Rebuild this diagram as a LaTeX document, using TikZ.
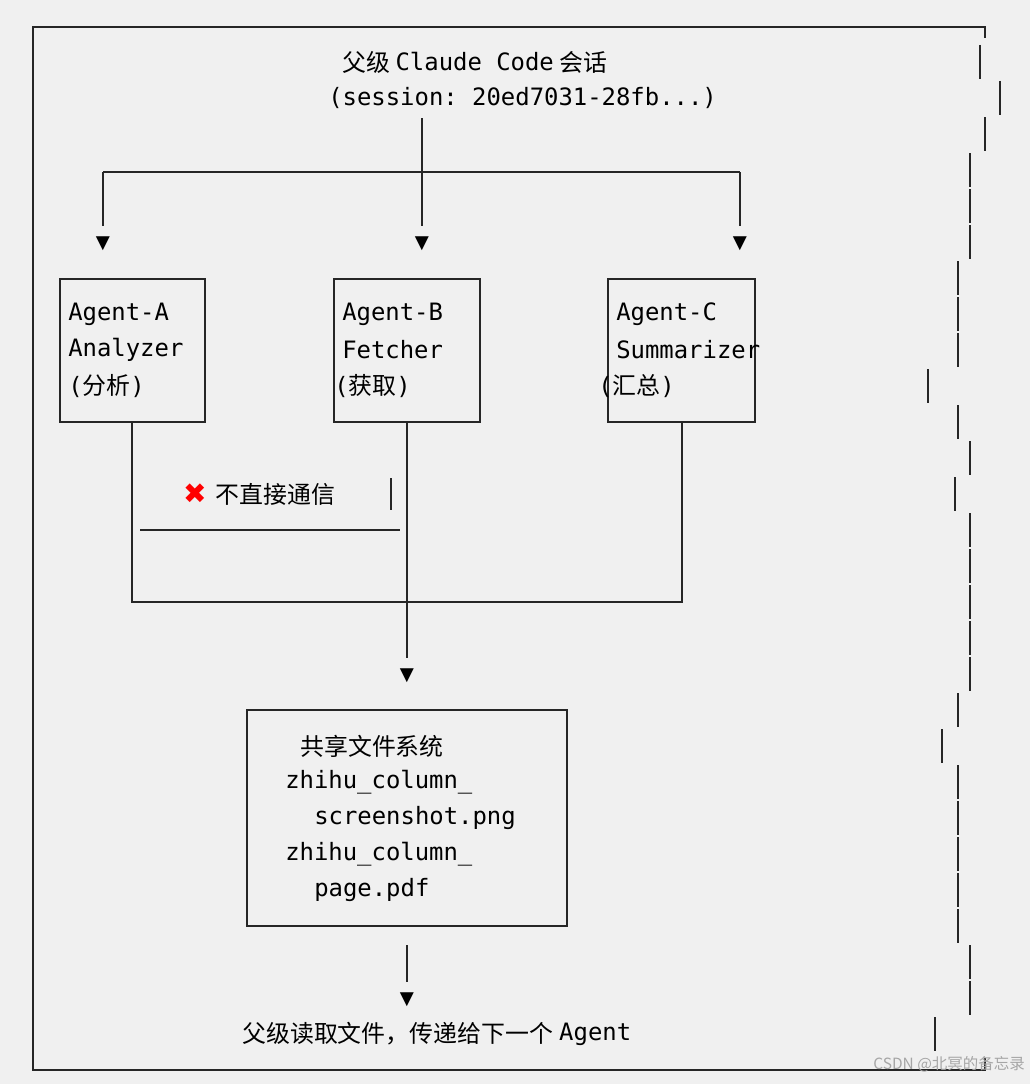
\documentclass[tikz,border=0pt]{standalone}
\usepackage{fontspec}
\setmonofont{DejaVu Sans Mono}
\newfontfamily\cjk{Noto Sans CJK SC}
\newfontfamily\sym{DejaVu Sans}
\usetikzlibrary{positioning}
\begin{document}
\begin{tikzpicture}[x=0.025cm,y=-0.025cm,
	wire/.style={line width=1.3pt, black!85},
	txt/.style={inner sep=0pt, anchor=west, font=\fontsize{17}{20}\selectfont\ttfamily},
	zh/.style={inner sep=0pt, anchor=west, font=\fontsize{17}{20}\selectfont\cjk},
	tip/.style={inner sep=0pt, font=\fontsize{13}{15}\selectfont\sym}]
	\fill[black!6] (0,0) rectangle (1030,1084);
	\useasboundingbox (0,0) rectangle (1030,1084);
	
	% outer frame
	\draw[wire] (985,38) -- (985,27) -- (33,27) -- (33,1070) -- (985,1070) -- (985,1058);
	\foreach \y/\x in {62/980,98/1000,134/985,170/970,206/970,242/970,278/958,314/958,350/958,386/928,422/958,458/970,494/955,530/970,566/970,602/970,638/970,674/970,710/958,746/942,782/958,818/958,854/958,890/958,926/958,962/970,998/970,1034/935}
		\draw[wire] (\x,\y-17) -- (\x,\y+17);
	
	% parent session
	\node[zh] (t1) at (342,62) {父级};
	\node[txt, right=0.35em of t1] (t2) {Claude Code};
	\node[zh, right=0.35em of t2] (t3) {会话};
	\node[txt] (sess) at (328,98) {(session: 20ed7031-28fb...)};
	
	\coordinate (top) at (422,118);
	\coordinate (split) at (422,172);
	\coordinate (la) at (103,172);
	\coordinate (lc) at (740,172);
	\node[tip] (ta) at (103,244) {▼};
	\node[tip] (tb) at (422,244) {▼};
	\node[tip] (tc) at (740,244) {▼};
	\draw[wire] (top) -- (split);
	\draw[wire] (la) -- (lc);
	\draw[wire] (la) -- ([yshift=13]ta.center);
	\draw[wire] (split) -- ([yshift=13]tb.center);
	\draw[wire] (lc) -- ([yshift=13]tc.center);
	
	% agents
	\draw[wire] (60,279) rectangle (205,422);
	\draw[wire] (334,279) rectangle (480,422);
	\draw[wire] (608,279) rectangle (755,422);
	\node[txt] (a1) at (68,314) {Agent-A};
	\node[txt] (a2) at (68,350) {Analyzer};
	\node[txt] (a3) at (68,386) {({\cjk 分析})};
	\node[txt] (b1) at (342,314) {Agent-B};
	\node[txt] (b2) at (342,350) {Fetcher};
	\node[txt] (b3) at (334,386) {({\cjk 获取})};
	\node[txt] (c1) at (616,314) {Agent-C};
	\node[txt] (c2) at (616,350) {Summarizer};
	\node[txt] (c3) at (598,386) {({\cjk 汇总})};
	
	\coordinate (oa) at (132,422);
	\coordinate (ob) at (407,422);
	\coordinate (oc) at (682,422);
	\coordinate (ma) at (132,602);
	\coordinate (mc) at (682,602);
	\draw[wire] (oa) -- (ma) -- (mc) -- (oc);
	\node[tip] (tf) at (407,676) {▼};
	\draw[wire] (ob) -- ([yshift=13]tf.center);
	
	% no direct talk
	\node[tip, text=red, font=\fontsize{20}{22}\selectfont\sym\bfseries] (x) at (195,494) {✖};
	\node[zh, right=0.6em of x] (nd) {不直接通信};
	\draw[wire] (140,530) -- (400,530);
	\draw[wire] (391,478) -- (391,510);
	
	% shared files
	\draw[wire] (247,710) rectangle (567,926);
	\node[zh] (f0) at (300,746) {共享文件系统};
	\node[txt] (f1) at (285,782) {zhihu\_column\_};
	\node[txt] (f2) at (314,818) {screenshot.png};
	\node[txt] (f3) at (285,854) {zhihu\_column\_};
	\node[txt] (f4) at (314,890) {page.pdf};
	
	\coordinate (out) at (407,945);
	\node[tip] (te) at (407,1000) {▼};
	\draw[wire] (out) -- ([yshift=13]te.center);
	\node[zh] (e1) at (242,1034) {父级读取文件，传递给下一个};
	\node[txt, right=0.4em of e1] (e2) {Agent};
	
	\node[zh, anchor=east, text=black!35, font=\fontsize{11}{13}\selectfont\cjk] (wm) at (1025,1064) {CSDN @北冥的备忘录};
\end{tikzpicture}
\end{document}
